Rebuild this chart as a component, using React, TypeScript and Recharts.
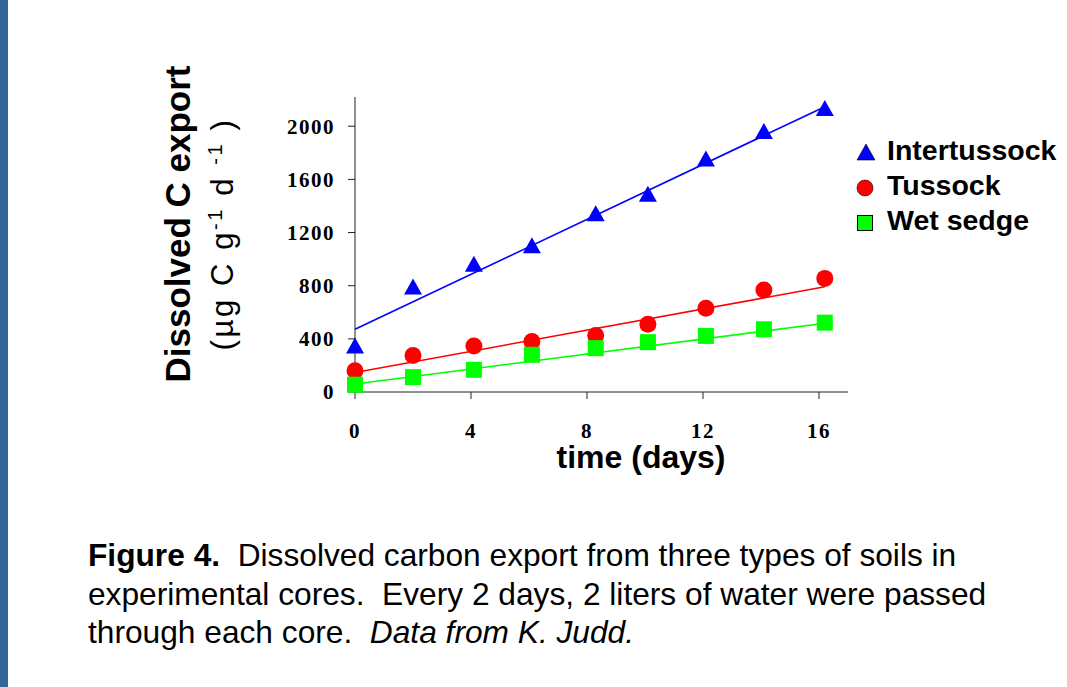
import { ComposedChart, Scatter, Line, XAxis, YAxis } from 'recharts'

const days = [0, 2, 4.1, 6.1, 8.3, 10.1, 12.1, 14.1, 16.2]
const intertussock = [342, 787, 957, 1097, 1337, 1485, 1750, 1957, 2130]
const tussock = [160, 275, 347, 380, 425, 510, 630, 767, 855]
const wetSedge = [55, 112, 167, 280, 330, 375, 422, 472, 522]

// regression lines, end points only
const fitDays = [0, 16.2]
const intertussockFit = [472, 2147]
const tussockFit = [147, 792]
const wetSedgeFit = [60, 517]

const xTicks = [0, 4, 8, 12, 16]
const yTicks = [0, 400, 800, 1200, 1600, 2000]
const seriesNames = ['Intertussock', 'Tussock', 'Wet sedge']

const BLUE = '#0000ff'
const RED = '#ff0000'
const GREEN = '#00ff00'
const SANS = '"Liberation Sans", Arial, sans-serif'
const SERIF = '"Liberation Serif", "Times New Roman", serif'

const toPoints = (xs: number[], ys: number[]) => xs.map((x, i) => ({ x, y: ys[i] }))

const Triangle = ({ cx, cy }: any) => (
  <polygon points={`${cx},${cy - 9} ${cx - 9},${cy + 7} ${cx + 9},${cy + 7}`} fill={BLUE} />
)
const Dot = ({ cx, cy }: any) => <circle cx={cx} cy={cy} r={8.5} fill={RED} />
const Square = ({ cx, cy }: any) => <rect x={cx - 8} y={cy - 8} width={16} height={16} fill={GREEN} />

const YTitle = () => (
  <g fill="#000">
    <text transform="translate(190,224) rotate(-90)" textAnchor="middle" fontFamily={SANS} fontWeight="bold" fontSize={35}>
      Dissolved C export
    </text>
    <text transform="translate(233,234) rotate(-90)" textAnchor="middle" fontFamily={SANS} fontSize={31} letterSpacing={2.6}>
      (µg C g<tspan dy={-11} fontSize={20}>-1</tspan>
      <tspan dy={11}> d </tspan>
      <tspan dy={-11} fontSize={20}>-1</tspan>
      <tspan dy={11}> )</tspan>
    </text>
  </g>
)

const legendMarks = [
  <polygon key="t" points="11,11 2,27 20,27" fill={BLUE} stroke="#000" strokeWidth={0.6} />,
  <circle key="c" cx={10} cy={20} r={8} fill={RED} stroke="#000" strokeWidth={0.6} />,
  <rect key="s" x={2.5} y={12.5} width={15} height={15} fill={GREEN} stroke="#000" strokeWidth={1} />,
]

export default function App() {
  const tick = { fontFamily: SERIF, fontWeight: 'bold', fontSize: 21, fill: '#000', letterSpacing: 1.5 }
  return (
    <div style={{ position: 'absolute', left: 0, top: 0, width: 1067, height: 687, background: '#fff', overflow: 'hidden' }}>
      <div style={{ position: 'absolute', left: 0, top: 0, width: 8, height: 687, background: '#336699' }} />

      <ComposedChart width={1067} height={687} margin={{ top: 97, right: 219, left: 275, bottom: 235 }}>
        <XAxis
          type="number"
          dataKey="x"
          domain={[0, 17]}
          ticks={xTicks}
          height={60}
          stroke="#222"
          tickSize={7}
          tickMargin={24}
          tick={tick}
        />
        <YAxis
          type="number"
          dataKey="y"
          domain={[0, 2220]}
          ticks={yTicks}
          width={80}
          stroke="#222"
          tickSize={7}
          tickMargin={13}
          tick={tick}
          label={<YTitle />}
        />
        <Line data={toPoints(fitDays, intertussockFit)} dataKey="y" stroke={BLUE} strokeWidth={1.6} dot={false} type="linear" isAnimationActive={false} />
        <Line data={toPoints(fitDays, tussockFit)} dataKey="y" stroke={RED} strokeWidth={1.6} dot={false} type="linear" isAnimationActive={false} />
        <Line data={toPoints(fitDays, wetSedgeFit)} dataKey="y" stroke={GREEN} strokeWidth={1.6} dot={false} type="linear" isAnimationActive={false} />
        <Scatter name={seriesNames[0]} data={toPoints(days, intertussock)} shape={<Triangle />} isAnimationActive={false} />
        <Scatter name={seriesNames[1]} data={toPoints(days, tussock)} shape={<Dot />} isAnimationActive={false} />
        <Scatter name={seriesNames[2]} data={toPoints(days, wetSedge)} shape={<Square />} isAnimationActive={false} />
      </ComposedChart>

      <div style={{ position: 'absolute', left: 541, top: 445, width: 200, textAlign: 'center', fontFamily: SANS, fontWeight: 'bold', fontSize: 32, lineHeight: '24px' }}>
        time (days)
      </div>

      <div style={{ position: 'absolute', left: 855, top: 133, fontFamily: SANS, fontWeight: 'bold', fontSize: 28.5, lineHeight: '35px' }}>
        {seriesNames.map((n, i) => (
          <div key={n} style={{ display: 'flex', height: 35 }}>
            <svg width={32} height={35}>{legendMarks[i]}</svg>
            <span>{n}</span>
          </div>
        ))}
      </div>

      <div style={{ position: 'absolute', left: 88, top: 536, fontFamily: SANS, fontSize: 31.7, lineHeight: '38.5px', whiteSpace: 'pre', color: '#000' }}>
        <b>Figure 4.</b>{'  Dissolved carbon export from three types of soils in\nexperimental cores.  Every 2 days, 2 liters of water were passed\nthrough each core.  '}
        <i>Data from K. Judd.</i>
      </div>
    </div>
  )
}
